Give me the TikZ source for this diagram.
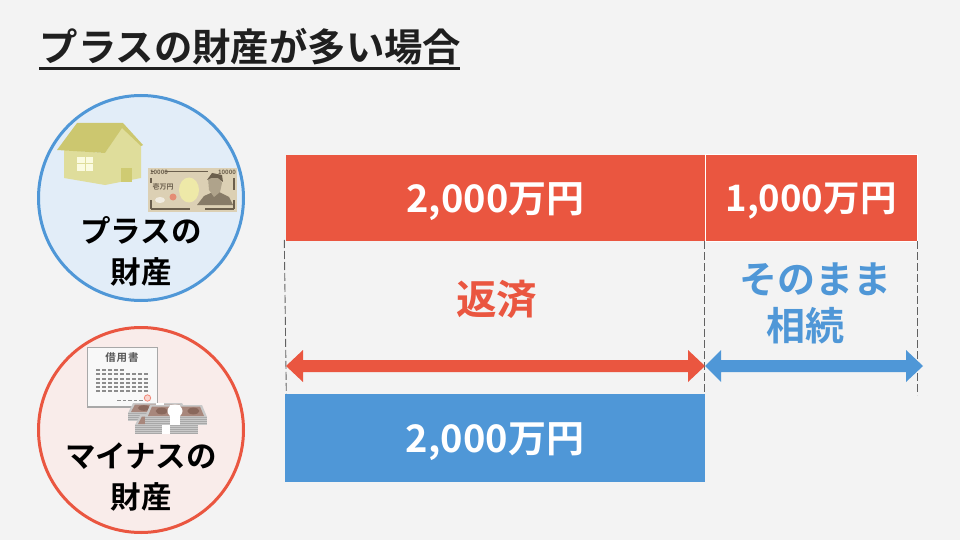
\documentclass[tikz,border=0pt]{standalone}
\usepackage{fontspec}
\setmainfont{Noto Sans CJK JP}[BoldFont={Noto Sans CJK JP Bold}]
\newfontfamily\jpb{Noto Sans CJK JP Bold}
\definecolor{bg}{HTML}{F3F3F3}
\definecolor{cred}{HTML}{EA5640}
\definecolor{cblue}{HTML}{4F97D7}
\definecolor{lblue}{HTML}{E2EDF8}
\definecolor{lred}{HTML}{F9ECEA}
\definecolor{wall}{HTML}{DFDD9B}
\definecolor{roof}{HTML}{CCC76F}
\definecolor{door}{HTML}{CFCB72}
\definecolor{win}{HTML}{FBFBE0}
\definecolor{note}{HTML}{DCD0B4}
\definecolor{notedk}{HTML}{6B5F4D}
\definecolor{paper}{HTML}{F8F8F8}
\definecolor{papergr}{HTML}{A8A8A8}
\definecolor{money}{HTML}{A8877C}
\definecolor{moneyd}{HTML}{8A685C}
\definecolor{rim}{HTML}{C9C9C9}
\tikzset{
  x=1pt,y=-1pt,
  circ/.style={circle,draw,line width=3pt,minimum size=205pt,inner sep=0pt},
  bar/.style={inner sep=0pt,outer sep=0pt,text=white},
  lbl/.style={align=center,text=black,font=\jpb\fontsize{30.5}{40.5}\selectfont},
  guide/.style={draw=black!62,line width=0.9pt,dash pattern=on 8pt off 3pt}
}
% stack of banknotes: x, top y, width, face height, side height, band x, band width
\newcommand{\cashstack}[7]{%
  \fill[papergr] (#1,{#2+#4}) rectangle ({#1+#3},{#2+#4+#5});
  \foreach \k in {1.5,3.5,5.5,7.5}{\draw[rim,line width=0.5pt] (#1,{#2+#4+\k}) -- ({#1+#3},{#2+#4+\k});}
  \fill[rim] ({#1+5},#2) -- ({#1+#3-5},#2) -- ({#1+#3},{#2+#4}) -- (#1,{#2+#4}) -- cycle;
  \fill[money] ({#1+7},{#2+1.5}) -- ({#1+#3-7},{#2+1.5}) -- ({#1+#3-3},{#2+#4-1}) -- ({#1+3},{#2+#4-1}) -- cycle;
  \fill[moneyd] ({#1+#3*0.27},{#2+#4*0.5}) ellipse (6 and {#4*0.28});
  \fill[moneyd] ({#1+#3*0.78},{#2+#4*0.5}) ellipse (6 and {#4*0.28});
  \fill[white] (#6,{#2-0.5}) rectangle ({#6+#7},{#2+#4+#5});
}
\newcommand{\lowered}[1]{\raisebox{-3.5pt}[\height][\depth]{#1}}
\begin{document}
\begin{tikzpicture}
\useasboundingbox (0,0) rectangle (960,540);
\fill[bg] (0,0) rectangle (960,540);
% title
\node[anchor=base west,inner sep=0pt,text=black!88,font=\jpb\fontsize{38.4}{39}\selectfont] (title) at (39.5,62) {プラスの財産が多い場合};
\draw[black!88,line width=3pt] (39,68.5) -- (460,68.5);
% circles
\node[circ,draw=cblue,fill=lblue] (plus) at (141,198) {};
\node[circ,draw=cred,fill=lred] (minus) at (141,430) {};
% house
\fill[wall] (64,150) -- (105,153) -- (122,127) -- (141,145) -- (141,178) -- (105,185) -- (64,178) -- cycle;
\fill[roof] (57,150) -- (77,123) -- (123,123) -- (143,145) -- (141,146) -- (122,128) -- (105,153) -- cycle;
\fill[door] (121,168) rectangle (132,182);
\fill[win] (77,157) rectangle (93,171);
\draw[wall,line width=1pt] (85,157) -- (85,171) (77,164) -- (93,164);
% banknote
\fill[note] (148,168) rectangle (237,212);
\draw[notedk,line width=1.2pt] (151,171.5) -- (154,171.5) (165,171.5) -- (208,171.5) (151,209) -- (190,209) (205,209) -- (234,209) (151,200) -- (151,209) (234,200) -- (234,209) (151,178) -- (151,183) (234,178) -- (234,190);
\node[inner sep=0pt,text=notedk,font=\jpb\fontsize{6}{6}\selectfont] (n1) at (159,172) {10000};
\node[inner sep=0pt,text=notedk,font=\jpb\fontsize{6}{6}\selectfont] (n2) at (227,172) {10000};
\node[inner sep=0pt,text=notedk,font=\jpb\fontsize{7}{7}\selectfont] (yen) at (163,187) {壱万円};
\fill[cred!55!note] (173,197) circle (3.5);
\fill[white!60!note] (160,200) ellipse (5 and 3);
\fill[note!60!white!80!yellow] (189,190) ellipse (10 and 12.5);
\fill[notedk!75!note] (197,205) -- (204,196) -- (213,192) -- (219,192) -- (229,197) -- (233,205) -- cycle;
\fill[notedk!40!note] (208,178) -- (219,176) -- (222,183) -- (220,192) -- (214,197) -- (209,190) -- cycle;
\fill[notedk] (207,180) -- (212,173) -- (222,175) -- (223,182) -- (218,178) -- (211,178) -- cycle;
% document
\fill[papergr] (87,347) rectangle (158,408);
\fill[paper] (88,347.5) rectangle (156.5,406);
\node[inner sep=0pt,text=black!65,font=\jpb\fontsize{10.5}{11}\selectfont] (shosho) at (122,358) {借\kern1pt 用\kern1pt 書};
\foreach \r/\n in {369/5,373/9,378/9,382/9,386/9,390/9}{
  \foreach \c in {1,...,\n}{
    \fill[black!45] ({90+\c*6},\r) rectangle ({93.6+\c*6},{\r+1.6});
  }
}
\foreach \c in {0,...,4}{\fill[black!45] ({117+\c*5.6},399.5) rectangle ({120.5+\c*5.6},401);}
\draw[cred!70,line width=0.8pt,fill=cred!25] (147.5,398) circle (3.2);
% money stacks
\cashstack{128}{403}{59}{10}{8}{156}{8}
\cashstack{135}{415}{63}{10}{9}{162}{8}
\cashstack{145}{405}{62}{12}{8}{170}{10}
\fill[white] (175,411) ellipse (7.5 and 6.5);
% circle labels
\node[lbl] (plustxt) at (141,251.5) {プラスの\\財産};
\node[lbl] (minustxt) at (141,477) {マイナスの\\財産};
% bars
\node[bar,fill=cred,minimum width=419pt,minimum height=86pt,anchor=north west,font=\jpb\fontsize{38}{38}\selectfont] (r1) at (286,155) {\lowered{2,000万円}};
\node[bar,fill=cred,draw=white,line width=1pt,minimum width=212pt,minimum height=86pt,anchor=north west,font=\jpb\fontsize{36.5}{37}\selectfont] (r2) at (705,155) {\lowered{1,000万円}};
\node[bar,fill=cblue,minimum width=420pt,minimum height=88pt,anchor=north west,font=\jpb\fontsize{38}{38}\selectfont] (b1) at (285,394) {\lowered{2,000万円}};
% guides
\coordinate (g1a) at (284.3,240); \coordinate (g1b) at (286.3,394);
\coordinate (g2a) at (704.5,241); \coordinate (g2b) at (704.5,394);
\coordinate (g3a) at (917.5,241); \coordinate (g3b) at (917.5,395);
\draw[guide] (g1a) -- (g1b);
\draw[guide] (g2a) -- (g2b);
\draw[guide] (g3a) -- (g3b);
% labels
\node[inner sep=0pt,text=cred,font=\jpb\fontsize{40.5}{41}\selectfont] (hensai) at (496.5,299) {返済};
\node[inner sep=0pt,text=cblue,font=\jpb\fontsize{38}{38}\selectfont] (sono1) at (815,279) {そのまま};
\node[inner sep=0pt,text=cblue,font=\jpb\fontsize{39}{39}\selectfont] (sono2) at (805.5,326) {相続};
% arrows
\fill[cred] (286,366) -- (303,350) -- (303,360) -- (688,360) -- (688,350) -- (705,366) -- (688,382) -- (688,372) -- (303,372) -- (303,382) -- cycle;
\fill[cblue] (705,366) -- (721,350) -- (721,360) -- (906,360) -- (906,350) -- (923,366) -- (906,382) -- (906,372) -- (721,372) -- (721,382) -- cycle;
\end{tikzpicture}
\end{document}
